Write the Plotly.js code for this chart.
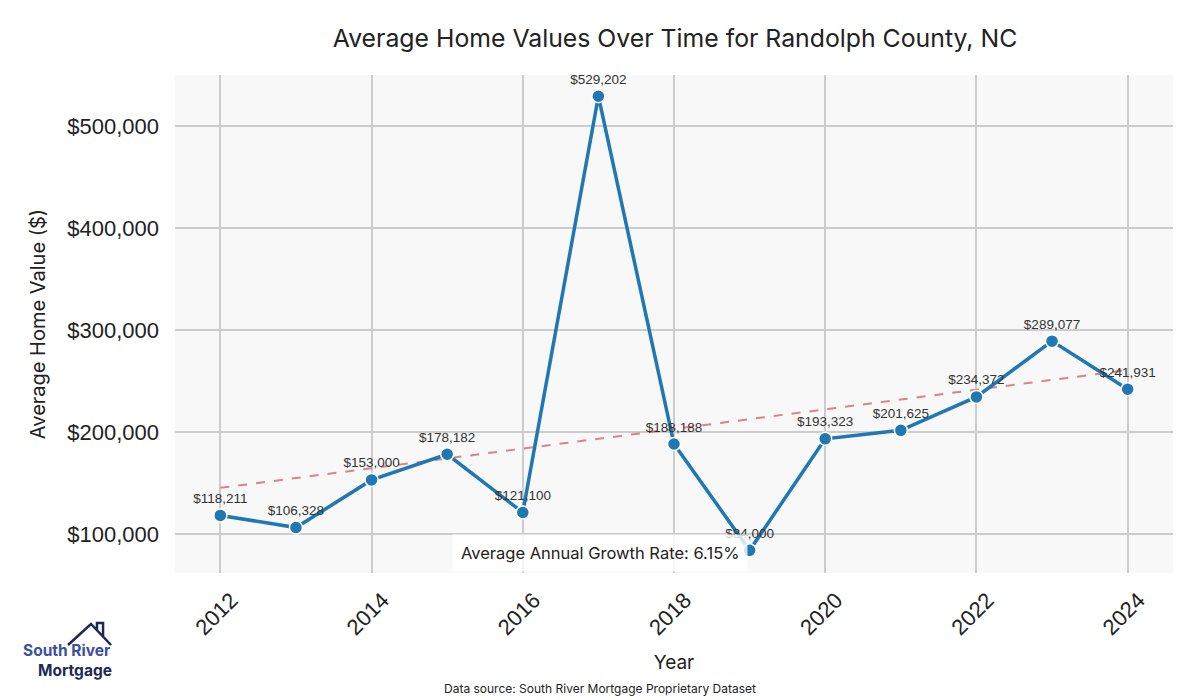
<!DOCTYPE html>
<html>
<head>
<meta charset="utf-8">
<script src="https://cdn.plot.ly/plotly-3.0.1.min.js"></script>
<style>html,body{margin:0;padding:0;background:#fff;}#chart{width:1200px;height:700px;}</style>
</head>
<body>
<div id="chart"></div>
<script>
const years = [2012, 2013, 2014, 2015, 2016, 2017, 2018, 2019, 2020, 2021, 2022, 2023, 2024];
const homeValues = [118211, 106328, 153000, 178182, 121100, 529202, 188188, 84000, 193323, 201625, 234372, 289077, 241931];
const trendYears = [2012, 2024];
const trendValues = [145235, 260694];
const yTickVals = [100000, 200000, 300000, 400000, 500000];
const yTickText = ["$100,000", "$200,000", "$300,000", "$400,000", "$500,000"];
const xTickVals = [2012, 2014, 2016, 2018, 2020, 2022, 2024];
const growthText = "Average Annual Growth Rate: 6.15%";

const labels = homeValues.map(v => "$" + v.toLocaleString("en-US"));

const traces = [
  {
    x: trendYears, y: trendValues, mode: "lines", type: "scatter",
    line: {color: "rgba(214,110,115,0.85)", width: 2, dash: "dash"},
    hoverinfo: "skip", showlegend: false
  },
  {
    x: years, y: homeValues, mode: "lines+markers+text", type: "scatter",
    line: {color: "#1f77b4", width: 3.5},
    marker: {color: "#1f77b4", size: 13, line: {color: "#ffffff", width: 1.5}},
    text: labels, textposition: "top center",
    textfont: {family: "Liberation Sans, Arial, sans-serif", size: 13.5, color: "#333333"},
    showlegend: false, cliponaxis: false
  }
];

const layout = {
  width: 1200, height: 700,
  margin: {l: 175, r: 27, t: 75, b: 127},
  paper_bgcolor: "#ffffff",
  plot_bgcolor: "#f8f8f8",
  title: {text: "Average Home Values Over Time for Randolph County, NC", x: 0.5625, xanchor: "center", y: 0.945, yanchor: "middle",
          font: {family: "Inter, sans-serif", size: 24.8, color: "#222222"}},
  xaxis: {
    range: [2011.4, 2024.6], tickvals: xTickVals, tickangle: -45,
    showgrid: true, gridcolor: "#cccccc", gridwidth: 2, zeroline: false, showline: false,
    tickfont: {family: "Liberation Sans, Arial, sans-serif", size: 22, color: "#222222"},
    ticklabelstandoff: 9, ticklabelshift: 11,
    title: {text: "Year", font: {family: "Inter, sans-serif", size: 19, color: "#222222"}, standoff: 16}
  },
  yaxis: {
    range: [61765, 550000], tickvals: yTickVals, ticktext: yTickText,
    showgrid: true, gridcolor: "#cccccc", gridwidth: 2, zeroline: false, showline: false,
    tickfont: {family: "Liberation Sans, Arial, sans-serif", size: 22, color: "#222222"},
    ticks: "", ticklen: 0, ticklabelstandoff: 15,
    title: {text: "Average Home Value ($)", font: {family: "Inter, sans-serif", size: 20, color: "#222222"}, standoff: 16}
  },
  annotations: [
    {text: growthText, xref: "x", yref: "paper", x: 2017.02, y: 0.04, xanchor: "center", yanchor: "middle",
     showarrow: false, bgcolor: "rgba(255,255,255,0.8)", borderpad: 8,
     font: {family: "Inter, sans-serif", size: 16.5, color: "#222222"}},
    {text: "Data source: South River Mortgage Proprietary Dataset", xref: "paper", yref: "paper",
     x: 0.426, y: -0.231, xanchor: "center", yanchor: "middle", showarrow: false,
     font: {family: "Inter, sans-serif", size: 12, color: "#222222"}},
    {text: "<b>South River</b>", xref: "paper", yref: "paper", x: -0.108, y: -0.155, xanchor: "center", yanchor: "middle",
     showarrow: false, borderpad: 0, font: {family: "Inter, sans-serif", size: 15.5, color: "#3d4f9f"}},
    {text: "<b>Mortgage</b>", xref: "paper", yref: "paper", x: -0.1, y: -0.195, xanchor: "center", yanchor: "middle",
     showarrow: false, borderpad: 0, font: {family: "Inter, sans-serif", size: 15.5, color: "#1e2757"}}
  ],
  shapes: [
    {type: "path", xref: "paper", yref: "paper",
     path: "M -0.1072,-0.1446 L -0.0842,-0.1024 L -0.0641,-0.1446",
     line: {color: "#1e2757", width: 2.5}},
    {type: "path", xref: "paper", yref: "paper",
     path: "M -0.0782,-0.1145 L -0.0782,-0.1004 L -0.0721,-0.1004 L -0.0721,-0.1265",
     line: {color: "#1e2757", width: 2.5}}
  ]
};

Plotly.newPlot("chart", traces, layout, {displayModeBar: false, staticPlot: true});
</script>
</body>
</html>
